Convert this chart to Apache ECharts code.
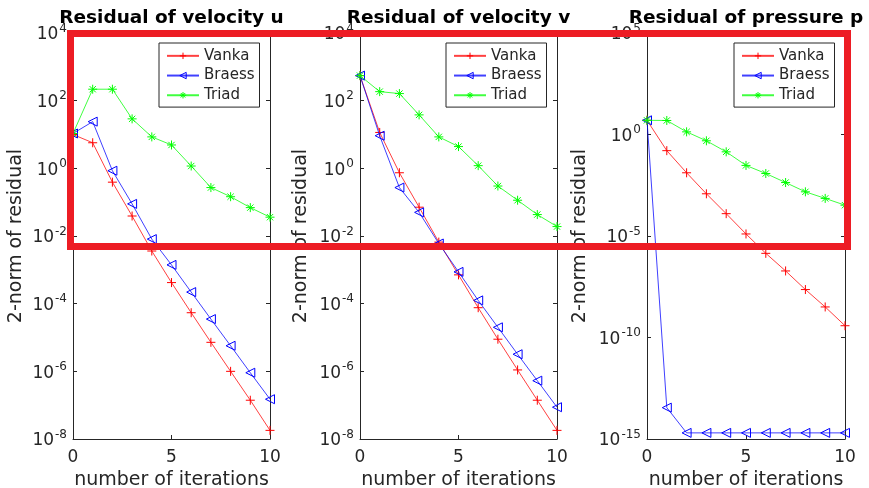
<!DOCTYPE html>
<html><head><meta charset="utf-8">
<script src="https://cdn.jsdelivr.net/npm/echarts@6/dist/echarts.min.js"></script>
<style>html,body{margin:0;padding:0;background:#fff}#c{width:869px;height:488px}</style>
</head><body><div id="c"></div>
<script>
const iterations = [0,1,2,3,4,5,6,7,8,9,10];
const seriesNames = ['Vanka','Braess','Triad'];
const panelTitles = ['Residual of velocity u','Residual of velocity v','Residual of pressure p'];
const xTicks = [0,5,10];
// panel 1: velocity u
const uVanka  = [10, 5.7, 0.39, 0.039, 0.0036, 4.2e-4, 5.4e-5, 7.2e-6, 1.0e-6, 1.4e-7, 1.8e-8];
const uBraess = [10.7, 24, 0.85, 0.089, 0.0081, 1.4e-3, 2.2e-4, 3.5e-5, 5.7e-6, 9.1e-7, 1.5e-7];
const uTriad  = [10.7, 218, 218, 29, 8.5, 4.9, 1.17, 0.27, 0.145, 0.069, 0.036];
// panel 2: velocity v
const vVanka  = [550, 11.5, 0.74, 0.071, 0.0066, 7.1e-4, 7.6e-5, 8.9e-6, 1.1e-6, 1.4e-7, 1.8e-8];
const vBraess = [550, 9.2, 0.27, 0.05, 0.006, 8.7e-4, 1.25e-4, 2.0e-5, 3.2e-6, 5.3e-7, 8.7e-8];
const vTriad  = [550, 185, 162, 38, 8.5, 4.4, 1.2, 0.30, 0.114, 0.043, 0.019];
// panel 3: pressure p
const pVanka  = [5.0, 0.16, 0.013, 1.2e-3, 1.26e-4, 1.26e-5, 1.4e-6, 1.9e-7, 2.3e-8, 3.2e-9, 3.8e-10];
const pBraess = [5.0, 3.5e-14, 2e-15, 2e-15, 2e-15, 2e-15, 2e-15, 2e-15, 2e-15, 2e-15, 2e-15];
const pTriad  = [5.0, 4.9, 1.35, 0.49, 0.14, 0.030, 0.012, 4.3e-3, 1.5e-3, 7.1e-4, 3.3e-4];
// y ranges (decade exponents) and tick step
const yMinExp = [-8, -8, -15];
const yMaxExp = [4, 4, 5];
const yStepExp = [2, 2, 5];

const panelData = [[uVanka,uBraess,uTriad],[vVanka,vBraess,vTriad],[pVanka,pBraess,pTriad]];
const colors = ['#ff0000','#0000ff','#00ff00'];
const symbols = [
  'path://M5,0L5,10M0,5L10,5',
  'path://M0,5L10,0L10,10Z',
  'path://M5,0L5,10M0,5L10,5M1.5,1.5L8.5,8.5M1.5,8.5L8.5,1.5'
];
const symSizes = [9, 9, 9];

const gridLefts = [73, 360, 647];
const gridWidths = [197, 197, 198];
const legendLefts = [159, 446, 734];
const nameGaps = [47, 49, 57];
const TXT = '#262626';
const FONT = 'DejaVu Sans';

const grid = [], xAxis = [], yAxis = [], series = [], legend = [], graphic = [];
for (let p = 0; p < 3; p++) {
  grid.push({left: gridLefts[p], width: gridWidths[p], top: 33, height: 406,
    containLabel: false, outerBoundsMode: 'none'});
  const xa = {
    type: 'value', gridIndex: p, min: 0, max: 10, interval: 5,
    axisLine: {show: true, onZero: false, lineStyle: {color: TXT, width: 1}},
    axisTick: {show: true, inside: true, length: 4, lineStyle: {color: TXT}},
    splitLine: {show: false}
  };
  xAxis.push(Object.assign({}, xa, {
    position: 'bottom', name: 'number of iterations', nameLocation: 'middle', nameGap: 29,
    nameTextStyle: {fontFamily: FONT, fontSize: 19, color: TXT},
    axisLabel: {fontFamily: FONT, fontSize: 17, color: TXT, margin: 10,
      formatter: v => xTicks.indexOf(v) >= 0 ? String(v) : ''}
  }));
  xAxis.push(Object.assign({}, xa, {position: 'top', axisLabel: {show: false}}));
  const ya = {
    type: 'log', logBase: 10, gridIndex: p,
    min: Math.pow(10, yMinExp[p]), max: Math.pow(10, yMaxExp[p]), interval: yStepExp[p],
    axisLine: {show: true, onZero: false, lineStyle: {color: TXT, width: 1}},
    axisTick: {show: true, inside: true, length: 4, lineStyle: {color: TXT}},
    minorTick: {show: false}, splitLine: {show: false}
  };
  yAxis.push(Object.assign({}, ya, {
    position: 'left', name: '2-norm of residual', nameLocation: 'middle', nameGap: nameGaps[p],
    nameTextStyle: {fontFamily: FONT, fontSize: 19, color: TXT},
    axisLabel: {
      margin: 6, color: TXT, fontFamily: FONT,
      formatter: v => '{b|10}{s|' + Math.round(Math.log10(v)) + '}',
      rich: {
        b: {fontSize: 17, fontFamily: FONT, color: TXT, padding: [4, 1, 0, 0]},
        s: {fontSize: 12, fontFamily: FONT, color: TXT, padding: [0, 0, 9, 0]}
      }
    }
  }));
  yAxis.push(Object.assign({}, ya, {position: 'right', axisLabel: {show: false}}));
  for (let s = 0; s < 3; s++) {
    series.push({
      name: seriesNames[s], type: 'line', xAxisIndex: 2*p, yAxisIndex: 2*p,
      data: iterations.map((x, i) => [x, panelData[p][s][i]]),
      symbol: symbols[s], symbolSize: symSizes[s], showAllSymbol: true,
      lineStyle: {color: colors[s], width: 1, opacity: 0.75},
      itemStyle: {color: 'none', borderColor: colors[s], borderWidth: 1},
      emphasis: {disabled: true}, animation: false, z: 3 + s
    });
  }
  legend.push({
    show: true, orient: 'vertical', left: legendLefts[p], top: 43,
    data: seriesNames, itemWidth: 32, itemHeight: 8, itemGap: 0,
    padding: [3, 5, 2, 7], backgroundColor: '#fff', borderColor: TXT, borderWidth: 1,
    itemStyle: {color: 'none', borderWidth: 1},
    textStyle: {fontFamily: FONT, fontSize: 15, color: TXT, lineHeight: 19.7}
  });
  graphic.push({
    type: 'text', silent: true, z: 50,
    x: gridLefts[p] + gridWidths[p] / 2, y: 18,
    style: {text: panelTitles[p], textAlign: 'center', textVerticalAlign: 'middle',
      font: 'bold 18.5px "DejaVu Sans"', fill: '#000'}
  });
}
graphic.push({
  type: 'rect', z: 100, silent: true,
  shape: {x: 70.5, y: 33.5, width: 777, height: 213},
  style: {fill: 'none', stroke: '#ed1c24', lineWidth: 7}
});

const chart = echarts.init(document.getElementById('c'), null, {renderer: 'canvas'});
chart.setOption({
  animation: false, backgroundColor: '#fff',
  grid, xAxis, yAxis, series, legend, graphic
});
</script></body></html>
